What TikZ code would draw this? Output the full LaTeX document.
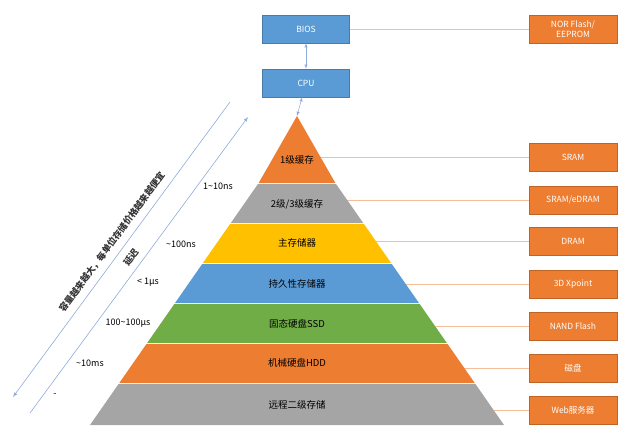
\documentclass[tikz,border=0pt]{standalone}
\usepackage{fontspec}
\setmainfont{Noto Sans CJK SC}
\begin{document}
\begin{tikzpicture}[x=1pt,y=-1pt,
 bx/.style={draw=#1!80!black,line width=0.3pt,fill=#1,text=white,minimum width=88pt,minimum height=28pt,inner sep=1pt,align=center,font=\fontsize{8.5}{9.5}\selectfont},
 lay/.style={font=\fontsize{9.5}{11}\selectfont},
 lat/.style={font=\fontsize{9}{10}\selectfont},
 con/.style={draw=corange!50,line width=0.9pt}]
\definecolor{cblue}{RGB}{91,155,213}
\definecolor{corange}{RGB}{237,125,49}
\definecolor{cgray}{RGB}{165,165,165}
\definecolor{cyellow}{RGB}{255,192,0}
\definecolor{cgreen}{RGB}{112,173,71}
\definecolor{cline}{RGB}{143,170,220}
\useasboundingbox (0,0) rectangle (624,431);
\node[bx=corange] (nor) at (573,29) {NOR Flash/\\EEPROM};
\node[bx=corange] (r1) at (573,157) {SRAM};
\node[bx=corange] (r2) at (573,200) {SRAM/eDRAM};
\node[bx=corange] (r3) at (573,241) {DRAM};
\node[bx=corange] (r4) at (573,284) {3D Xpoint};
\node[bx=corange] (r5) at (573,326) {NAND Flash};
\node[bx=corange] (r6) at (573,368) {磁盘};
\node[bx=corange] (r7) at (573,410) {Web服务器};
\foreach \i/\y in {1/157,2/200,3/241,4/284,5/326,6/368,7/410}{
 \coordinate (c\i) at (297,\y);
 \draw[con] (c\i) -- (r\i.west);}
\def\L#1#2#3{\fill[#3] ({297-(#1-128)*0.697},#1) -- ({297+(#1-128)*0.697},#1) -- ({297+(#2-128)*0.697},#2) -- ({297-(#2-128)*0.697},#2) -- cycle;}
\fill[corange] (297,116) -- ({297+55*0.697},183) -- ({297-55*0.697},183) -- cycle;
\L{184}{223}{cgray}
\L{224}{263}{cyellow}
\L{264}{303}{cblue}
\L{304}{343}{cgreen}
\L{344}{383}{corange}
\L{384}{425}{cgray}
\node[lay] (p1) at (297,160) {1级缓存};
\node[lay] (p2) at (297,204) {2级/3级缓存};
\node[lay] (p3) at (297,243) {主存储器};
\node[lay] (p4) at (297,284) {持久性存储器};
\node[lay] (p5) at (297,324) {固态硬盘SSD};
\node[lay] (p6) at (297,363) {机械硬盘HDD};
\node[lay] (p7) at (297,405) {远程二级存储};
\coordinate (apex) at (297,116);
\node[bx=cblue,minimum width=87pt] (bios) at (306,29) {BIOS};
\node[bx=cblue,minimum width=87pt] (cpu) at (306,83) {CPU};
\draw[con] (bios) -- (nor);
\draw[cline,line width=0.5pt,<->,>=latex] (bios) -- (cpu);
\draw[cline,line width=0.5pt,<->,>=latex] (cpu) -- (apex);
\coordinate (a1) at (13,397); \coordinate (a2) at (230,102);
\coordinate (b1) at (30,413); \coordinate (b2) at (248,117);
\draw[cline,line width=0.6pt,<-,>=latex] (a1) -- (a2);
\draw[cline,line width=0.6pt,->,>=latex] (b1) -- (b2);
\node[lat,rotate=53.6,font=\bfseries\fontsize{9}{10}\selectfont,text=black!80] (t1) at (112,242) {容量越来越大，每单位存储价格越来越便宜};
\node[lat,rotate=53.6,font=\bfseries\fontsize{9}{10}\selectfont,text=black!80] (t2) at (131,257) {延迟};
\node[lat] (l1) at (218,186) {1\textasciitilde10ns};
\node[lat] (l2) at (181,244) {\textasciitilde100ns};
\node[lat] (l3) at (148,282) {< 1μs};
\node[lat] (l4) at (128,323) {100\textasciitilde100μs};
\node[lat] (l5) at (90,363) {\textasciitilde10ms};
\node[lat] (l6) at (55,395) {-};
\end{tikzpicture}
\end{document}
